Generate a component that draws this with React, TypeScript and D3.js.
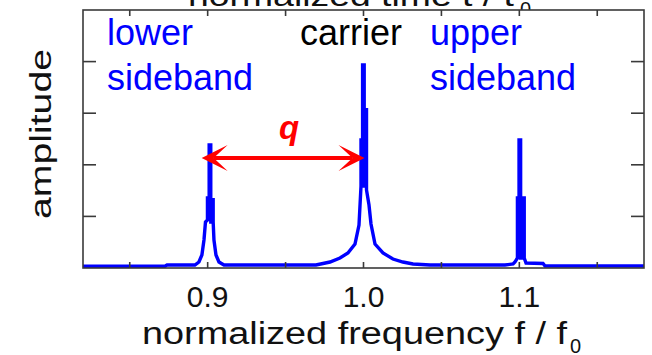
import React from "react";
import * as d3 from "d3";

// spectrum trace (normalized frequency, amplitude)
const freq = [
  0.82, 0.8726, 0.8739, 0.8918, 0.8944, 0.8963, 0.89763, 0.89859, 0.89987, 0.89987, 0.90096, 0.90096,
  0.90199, 0.90199, 0.90353, 0.90353, 0.90353, 0.90404, 0.90533, 0.90725, 0.91046, 0.9695,
  0.9785, 0.9849, 0.99, 0.99455, 0.99711, 0.9984, 0.9984, 0.99942, 0.99942, 1.00045, 1.00045,
  1.00193, 1.00193, 1.00193, 1.00353, 1.00481, 1.00738, 1.0125, 1.0189, 1.0253, 1.0318, 1.0427,
  1.0908, 1.0960, 1.0972, 1.09878, 1.09878, 1.09981, 1.09981, 1.10083, 1.10083, 1.10199, 1.10199,
  1.10314, 1.10314, 1.1043, 1.1152, 1.1165, 1.18,
];
const amp = [
  0.035, 0.035, 0.058, 0.058, 0.116, 0.252, 0.543, 0.891, 0.93, 1.357, 1.357, 2.384,
  2.384, 0.891, 0.891, 1.357, 0.891, 0.543, 0.252, 0.116, 0.058, 0.058,
  0.116, 0.194, 0.291, 0.465, 0.833, 1.589, 2.481, 2.481, 3.934, 3.934, 1.589,
  1.589, 3.101, 1.512, 1.221, 0.853, 0.465, 0.291, 0.174, 0.116, 0.078, 0.058,
  0.058, 0.078, 0.116, 0.194, 1.357, 1.357, 2.481, 2.481, 0.194, 0.194, 1.357,
  1.357, 0.194, 0.097, 0.087, 0.039, 0.039,
];

const xDomain = [0.82, 1.18];
const yDomain = [0, 5];
const xMajorTicks = [0.9, 1.0, 1.1];
const xTickLabels = ["0.9", "1.0", "1.1"];
const xAllTicks = [0.85, 0.9, 0.95, 1.0, 1.05, 1.1, 1.15];
const yTicks = [1, 2, 3, 4];

const FONT = "'Liberation Sans', Arial, sans-serif";

export default function App() {
  const W = 652, H = 355;
  const L = 83, R = 644, T = 10, B = 268;
  const x = d3.scaleLinear().domain(xDomain).range([L, R]);
  const y = d3.scaleLinear().domain(yDomain).range([B, T]);
  const pts = freq.map((f, i) => [f, amp[i]] as [number, number]);
  const line = d3.line<[number, number]>().x(d => x(d[0])).y(d => y(d[1]));
  const frame = "#3a3a3a";
  const ay = 158;
  const x1 = x(0.9) - 6, x2 = x(1.0) + 1;
  return (
    <svg width={W} height={H} style={{ position: "absolute", left: 0, top: 0, background: "#fff" }} fontFamily={FONT}>
      {/* title, mostly clipped */}
      <text x={188} y={6} fontSize={30} textLength={326} lengthAdjust="spacingAndGlyphs" fill="#111">normalized time  t / t</text>
      <text x={520} y={16} fontSize={20} fill="#111">0</text>
      <rect x={L} y={T} width={R - L} height={B - T} fill="#fff" stroke="none" />
      <path d={line(pts) || ""} fill="none" stroke="#0000ff" strokeWidth={3.4} strokeLinejoin="miter" strokeMiterlimit={2} />
      <rect x={L} y={T} width={R - L} height={B - T} fill="none" stroke={frame} strokeWidth={1.6} />
      {xAllTicks.map(t => (
        <g key={"xt" + t}>
          <line x1={x(t)} x2={x(t)} y1={B} y2={B - 6} stroke={frame} strokeWidth={1.6} />
          <line x1={x(t)} x2={x(t)} y1={T} y2={T + 6} stroke={frame} strokeWidth={1.6} />
        </g>
      ))}
      {yTicks.map(t => (
        <g key={"yt" + t}>
          <line x1={L} x2={L + 13} y1={y(t)} y2={y(t)} stroke={frame} strokeWidth={1.6} />
          <line x1={R} x2={R - 13} y1={y(t)} y2={y(t)} stroke={frame} strokeWidth={1.6} />
        </g>
      ))}
      {xMajorTicks.map((t, i) => (
        <text key={"xl" + t} x={x(t)} y={307} fontSize={30} textAnchor="middle" fill="#111">{xTickLabels[i]}</text>
      ))}
      <text x={142} y={344} fontSize={31} textLength={425} lengthAdjust="spacingAndGlyphs" fill="#111">normalized frequency f / f</text>
      <text x={570} y={353} fontSize={20} fill="#111">0</text>
      <text transform={`translate(51,219) rotate(-90)`} fontSize={30} textLength={170} lengthAdjust="spacingAndGlyphs" fill="#111">amplitude</text>
      {/* annotations */}
      <text x={107} y={45} fontSize={36} fill="#0000ff">lower</text>
      <text x={107} y={90} fontSize={36} fill="#0000ff">sideband</text>
      <text x={300} y={45} fontSize={36} fill="#000">carrier</text>
      <text x={430} y={45} fontSize={36} fill="#0000ff">upper</text>
      <text x={430} y={90} fontSize={36} fill="#0000ff">sideband</text>
      <text x={289} y={139} fontSize={33} fontWeight="bold" fontStyle="italic" textAnchor="middle" fill="#ff0000">q</text>
      <line x1={x1 + 12} x2={x2 - 12} y1={ay} y2={ay} stroke="#ff0000" strokeWidth={4} />
      <path d={`M${x1},${ay} L${x1 + 26},${ay - 13} L${x1 + 12},${ay} L${x1 + 26},${ay + 13} Z`} fill="#ff0000" />
      <path d={`M${x2},${ay} L${x2 - 26},${ay - 13} L${x2 - 12},${ay} L${x2 - 26},${ay + 13} Z`} fill="#ff0000" />
    </svg>
  );
}
